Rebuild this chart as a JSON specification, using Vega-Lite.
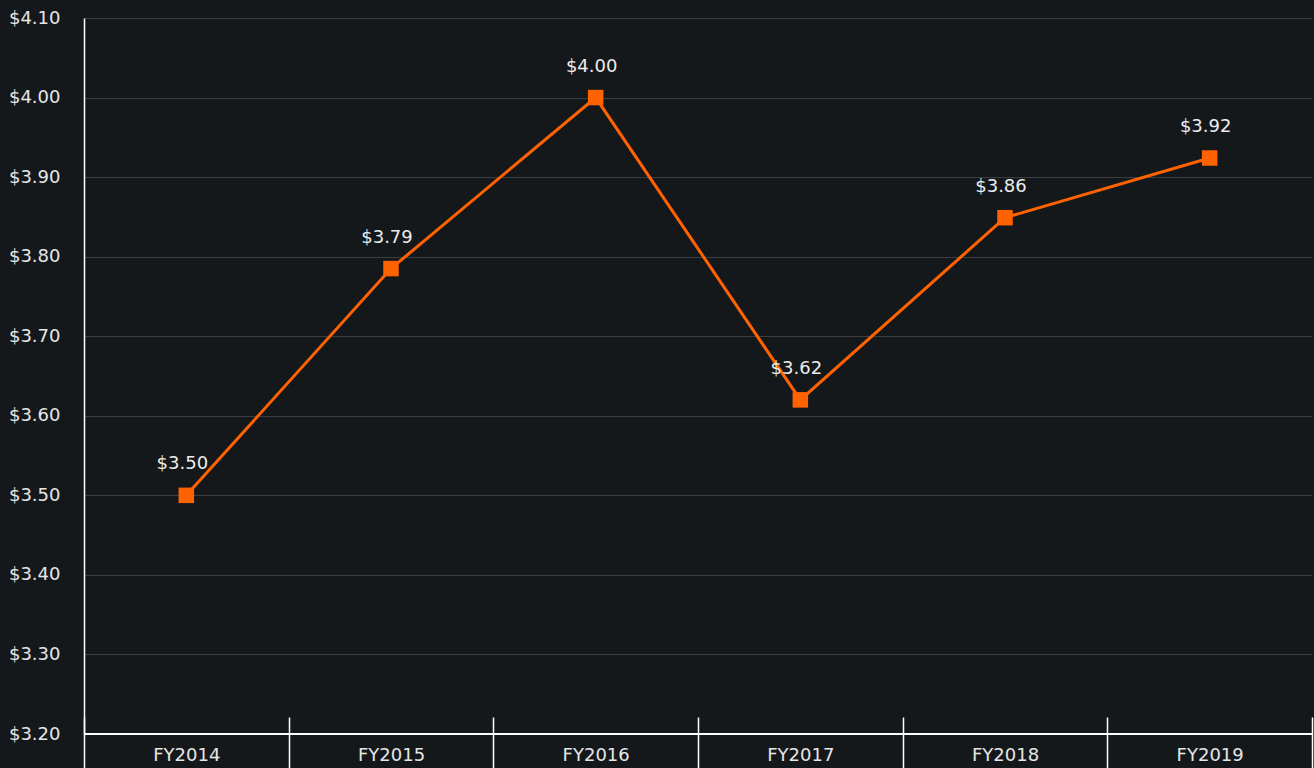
{
  "$schema": "https://vega.github.io/schema/vega-lite/v6.json",
  "width": 1228,
  "height": 716,
  "autosize": {"type": "none"},
  "padding": {"left": 84, "top": 18, "right": 2, "bottom": 34},
  "background": "#15181b",
  "config": {
    "view": {"stroke": null},
    "font": "DejaVu Sans"
  },
  "data": {
    "values": [
      {"year": "FY2014", "eps": 3.50, "label": "$3.50"},
      {"year": "FY2015", "eps": 3.785, "label": "$3.79"},
      {"year": "FY2016", "eps": 4.00, "label": "$4.00"},
      {"year": "FY2017", "eps": 3.62, "label": "$3.62"},
      {"year": "FY2018", "eps": 3.849, "label": "$3.86"},
      {"year": "FY2019", "eps": 3.924, "label": "$3.92"}
    ]
  },
  "encoding": {
    "x": {
      "field": "year",
      "type": "ordinal",
      "scale": {"type": "band", "paddingInner": 0, "paddingOuter": 0},
      "axis": {
        "title": null,
        "labelAngle": 0,
        "domain": false,
        "grid": false,
        "offset": -17,
        "tickBand": "extent",
        "tickSize": 52,
        "tickColor": "#ffffff",
        "tickWidth": 1.5,
        "labelPadding": -23,
        "labelBaseline": "top",
        "labelColor": "#e6e6e6",
        "labelFontSize": 18
      }
    },
    "y": {
      "field": "eps",
      "type": "quantitative",
      "scale": {"domain": [3.2, 4.1], "nice": false, "zero": false},
      "axis": {
        "title": null,
        "values": [3.2, 3.3, 3.4, 3.5, 3.6, 3.7, 3.8, 3.9, 4.0, 4.1],
        "format": "$.2f",
        "ticks": false,
        "domainColor": "#ffffff",
        "domainWidth": 1.5,
        "gridColor": "#3a3e42",
        "gridWidth": 1,
        "labelPadding": 24,
        "labelColor": "#e6e6e6",
        "labelFontSize": 18
      }
    }
  },
  "layer": [
    {
      "mark": {"type": "rule", "color": "#ffffff", "strokeWidth": 1.5},
      "encoding": {"y": {"datum": 3.2}, "x": null}
    },
    {
      "mark": {
        "type": "line",
        "color": "#ff6200",
        "strokeWidth": 3,
        "point": {"shape": "square", "size": 240, "filled": true, "color": "#ff6200", "opacity": 1}
      }
    },
    {
      "mark": {"type": "text", "color": "#ececec", "fontSize": 18, "dy": -31, "dx": -4},
      "encoding": {"text": {"field": "label"}}
    }
  ]
}
